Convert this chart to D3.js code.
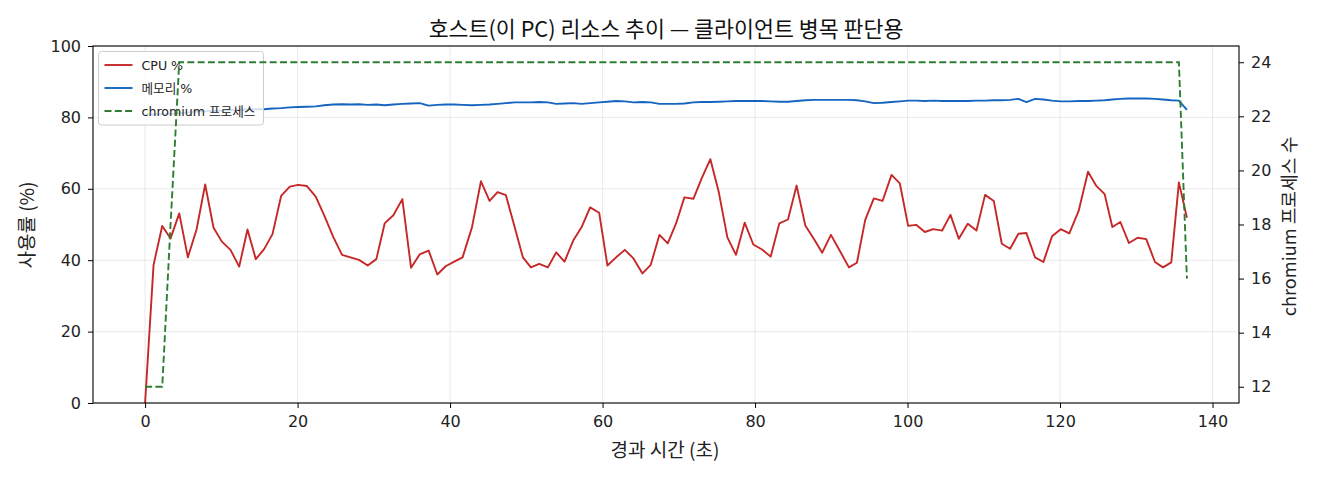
<!DOCTYPE html>
<html>
<head>
<meta charset="utf-8">
<script src="https://cdn.jsdelivr.net/npm/d3@7"></script>
<style>
  body { margin: 0; background: #fff; }
  svg { font-family: "DejaVu Sans", "Noto Sans CJK KR", sans-serif; }
  .label { font-family: "Noto Sans CJK KR", "Noto Sans", sans-serif; }
</style>
</head>
<body>
<div id="chart"></div>
<script>
// elapsed seconds of each sample
const elapsedSec = [
  0, 1.11, 2.25, 3.34, 4.48, 5.61, 6.75, 7.88, 8.98, 10.07,
  11.2, 12.34, 13.43, 14.52, 15.61, 16.71, 17.84, 18.98, 20.07, 21.2,
  22.38, 23.52, 24.66, 25.83, 26.93, 28.06, 29.2, 30.33, 31.42, 32.56,
  33.74, 34.88, 36.01, 37.19, 38.33, 39.42, 40.55, 41.64, 42.87, 44.05,
  45.18, 46.23, 47.32, 48.46, 49.55, 50.6, 51.69, 52.83, 53.92, 55.01,
  56.15, 57.24, 58.37, 59.55, 60.64, 61.78, 62.92, 64.05, 65.23, 66.32,
  67.46, 68.55, 69.64, 70.73, 71.91, 73.0, 74.14, 75.23, 76.37, 77.5,
  78.64, 79.77, 80.91, 82.05, 83.18, 84.32, 85.45, 86.59, 87.68, 88.81,
  89.95, 91.13, 92.31, 93.36, 94.45, 95.58, 96.72, 97.9, 98.99, 100.08,
  101.13, 102.27, 103.36, 104.54, 105.63, 106.72, 107.9, 109.04, 110.17, 111.31,
  112.36, 113.45, 114.54, 115.59, 116.72, 117.82, 118.95, 120.09, 121.22, 122.44,
  123.67, 124.76, 125.85, 126.86, 127.91, 129.04, 130.18, 131.31, 132.45, 133.5,
  134.59, 135.59, 136.64
];

const cpuPct = [
  0, 38.7, 49.6, 46.1, 53.1, 40.8, 48.6, 61.2, 49.1, 45.2,
  42.9, 38.2, 48.6, 40.3, 43.1, 47.3, 58.0, 60.6, 61.1, 60.8,
  57.8, 52.4, 46.6, 41.5, 40.8, 40.1, 38.5, 40.3, 50.3, 52.6,
  57.1, 37.9, 41.6, 42.7, 36.0, 38.3, 39.6, 40.8, 49.2, 62.1,
  56.6, 59.1, 58.2, 49.4, 40.8, 38.0, 39.0, 38.0, 42.2, 39.6,
  45.5, 49.2, 54.8, 53.3, 38.5, 40.8, 42.9, 40.5, 36.3, 38.7,
  47.1, 44.7, 50.3, 57.6, 57.2, 62.9, 68.3, 59.2, 46.4, 41.5,
  50.5, 44.4, 43.0, 41.0, 50.3, 51.4, 60.9, 49.7, 46.1, 42.1,
  47.1, 42.6, 38.0, 39.3, 51.3, 57.3, 56.6, 63.9, 61.5, 49.6,
  49.9, 47.9, 48.7, 48.3, 52.7, 46.0, 50.2, 48.3, 58.3, 56.6,
  44.6, 43.2, 47.4, 47.6, 40.8, 39.5, 46.7, 48.7, 47.5, 53.8,
  64.8, 60.8, 58.5, 49.3, 50.7, 44.8, 46.3, 45.9, 39.5, 38.0,
  39.4, 61.8, 51.9
];

const memPct = [
  80.8, 80.8, 80.9, 81.0, 81.2, 81.4, 81.6, 81.7, 81.8, 81.9,
  82.0, 82.1, 82.2, 82.3, 82.3, 82.5, 82.6, 82.8, 82.9, 83.0,
  83.1, 83.4, 83.6, 83.7, 83.6, 83.7, 83.5, 83.6, 83.4, 83.6,
  83.8, 83.9, 84.0, 83.3, 83.5, 83.6, 83.6, 83.5, 83.4, 83.5,
  83.6, 83.8, 84.0, 84.2, 84.2, 84.2, 84.3, 84.2, 83.8, 83.9,
  84.0, 83.8, 84.0, 84.2, 84.4, 84.6, 84.5, 84.2, 84.3, 84.2,
  83.8, 83.8, 83.8, 83.9, 84.2, 84.3, 84.3, 84.4, 84.5, 84.6,
  84.6, 84.6, 84.6, 84.5, 84.4, 84.4, 84.6, 84.8, 84.9, 84.9,
  84.9, 84.9, 84.9, 84.8, 84.5, 84.0, 84.1, 84.3, 84.5, 84.7,
  84.7, 84.6, 84.7, 84.6, 84.6, 84.6, 84.6, 84.7, 84.7, 84.8,
  84.8, 84.9, 85.2, 84.3, 85.2, 85.0, 84.7, 84.5, 84.5, 84.6,
  84.6, 84.7, 84.8, 85.0, 85.2, 85.3, 85.3, 85.3, 85.2, 85.0,
  84.8, 84.7, 82.1
];

const chromiumCount = [
  12, 12, 12, 18, 24, 24, 24, 24, 24, 24,
  24, 24, 24, 24, 24, 24, 24, 24, 24, 24,
  24, 24, 24, 24, 24, 24, 24, 24, 24, 24,
  24, 24, 24, 24, 24, 24, 24, 24, 24, 24,
  24, 24, 24, 24, 24, 24, 24, 24, 24, 24,
  24, 24, 24, 24, 24, 24, 24, 24, 24, 24,
  24, 24, 24, 24, 24, 24, 24, 24, 24, 24,
  24, 24, 24, 24, 24, 24, 24, 24, 24, 24,
  24, 24, 24, 24, 24, 24, 24, 24, 24, 24,
  24, 24, 24, 24, 24, 24, 24, 24, 24, 24,
  24, 24, 24, 24, 24, 24, 24, 24, 24, 24,
  24, 24, 24, 24, 24, 24, 24, 24, 24, 24,
  24, 24, 16
];

const xTicks = [0, 20, 40, 60, 80, 100, 120, 140];
const pctTicks = [0, 20, 40, 60, 80, 100];
const countTicks = [12, 14, 16, 18, 20, 22, 24];

const seriesNames = ["CPU %", "메모리 %", "chromium 프로세스"];
const seriesColors = ["#c62828", "#1565c0", "#2e7d32"];

const width = 1320, height = 480;
const margin = { top: 46, right: 81, bottom: 77, left: 93 };
const innerWidth = width - margin.left - margin.right;
const innerHeight = height - margin.top - margin.bottom;

const svg = d3.select("#chart")
  .append("svg")
  .attr("width", width)
  .attr("height", height);

const g = svg.append("g")
  .attr("transform", `translate(${margin.left},${margin.top})`);

// matplotlib style 5% padding on the x range
const xPad = (d3.max(elapsedSec) - d3.min(elapsedSec)) * 0.05;
const x = d3.scaleLinear()
  .domain([d3.min(elapsedSec) - xPad, d3.max(elapsedSec) + xPad])
  .range([0, innerWidth]);

const yPct = d3.scaleLinear().domain([0, 100]).range([innerHeight, 0]);

const cPad = (d3.max(chromiumCount) - d3.min(chromiumCount)) * 0.05;
const yCount = d3.scaleLinear()
  .domain([d3.min(chromiumCount) - cPad, d3.max(chromiumCount) + cPad])
  .range([innerHeight, 0]);

// grid
g.append("g").selectAll("line")
  .data(xTicks)
  .enter()
  .append("line")
  .attr("x1", d => x(d)).attr("x2", d => x(d))
  .attr("y1", 0).attr("y2", innerHeight)
  .style("stroke", "#b0b0b0").style("stroke-opacity", 0.3).style("stroke-width", "0.9px");

g.append("g").selectAll("line")
  .data(pctTicks)
  .enter()
  .append("line")
  .attr("x1", 0).attr("x2", innerWidth)
  .attr("y1", d => yPct(d)).attr("y2", d => yPct(d))
  .style("stroke", "#b0b0b0").style("stroke-opacity", 0.3).style("stroke-width", "0.9px");

const pctLine = vals => d3.line()
  .x((d, i) => x(elapsedSec[i]))
  .y(d => yPct(d))(vals);

g.append("path")
  .attr("d", pctLine(cpuPct))
  .style("fill", "none")
  .style("stroke", seriesColors[0])
  .style("stroke-width", "1.9px")
  .style("stroke-linejoin", "round");

g.append("path")
  .attr("d", pctLine(memPct))
  .style("fill", "none")
  .style("stroke", seriesColors[1])
  .style("stroke-width", "1.9px")
  .style("stroke-linejoin", "round");

// legend (belongs to the left axis, so the dashed line goes over it)
const legend = g.append("g").attr("transform", "translate(5.5,5.5)");
legend.append("rect")
  .attr("width", 165).attr("height", 73.5)
  .attr("rx", 3).attr("ry", 3)
  .style("fill", "#fff").style("fill-opacity", 0.8)
  .style("stroke", "#cccccc").style("stroke-width", "1px");

seriesNames.forEach((name, i) => {
  const row = legend.append("g").attr("transform", `translate(6,${13.5 + i * 23})`);
  row.append("line")
    .attr("x1", 0).attr("x2", 28)
    .style("stroke", seriesColors[i])
    .style("stroke-width", "1.9px")
    .style("stroke-dasharray", i === 2 ? "7,3.3" : null);
  row.append("text")
    .attr("x", 37).attr("dy", "0.36em")
    .style("font-size", "12.6px")
    .style("fill", "#222")
    .text(name);
});

g.append("path")
  .attr("d", d3.line()
    .x((d, i) => x(elapsedSec[i]))
    .y(d => yCount(d))(chromiumCount))
  .style("fill", "none")
  .style("stroke", seriesColors[2])
  .style("stroke-width", "1.9px")
  .style("stroke-dasharray", "7,3.3");

// axes
const styleAxis = sel => {
  sel.attr("font-family", null).attr("font-size", null);
  sel.select(".domain").remove();
  sel.selectAll(".tick line").style("stroke", "#000").style("stroke-width", "1px");
  sel.selectAll(".tick text").style("font-size", "16px").style("fill", "#222");
};

g.append("g")
  .attr("transform", `translate(0,${innerHeight})`)
  .call(d3.axisBottom(x).tickValues(xTicks).tickSize(5).tickPadding(7.5))
  .call(styleAxis);

g.append("g")
  .call(d3.axisLeft(yPct).tickValues(pctTicks).tickSize(5).tickPadding(7))
  .call(styleAxis);

g.append("g")
  .attr("transform", `translate(${innerWidth},0)`)
  .call(d3.axisRight(yCount).tickValues(countTicks).tickSize(5).tickPadding(7))
  .call(styleAxis);

g.append("rect")
  .attr("width", innerWidth).attr("height", innerHeight)
  .style("fill", "none").style("stroke", "#000").style("stroke-width", "1.1px");

// titles
svg.append("text")
  .attr("class", "label")
  .attr("x", 666).attr("y", 36.5)
  .attr("text-anchor", "middle")
  .style("font-size", "21.7px").style("fill", "#111")
  .text("호스트(이 PC) 리소스 추이 — 클라이언트 병목 판단용");

svg.append("text")
  .attr("class", "label")
  .attr("x", 665).attr("y", 457)
  .attr("text-anchor", "middle")
  .style("font-size", "19px").style("fill", "#222")
  .text("경과 시간 (초)");

svg.append("text")
  .attr("class", "label")
  .attr("transform", "translate(34,225) rotate(-90)")
  .attr("text-anchor", "middle")
  .style("font-size", "19px").style("fill", "#222")
  .text("사용률 (%)");

svg.append("text")
  .attr("class", "label")
  .attr("transform", "translate(1295.5,226.5) rotate(-90)")
  .attr("text-anchor", "middle")
  .style("font-size", "18.2px").style("fill", "#222")
  .text("chromium 프로세스 수");
</script>
</body>
</html>
